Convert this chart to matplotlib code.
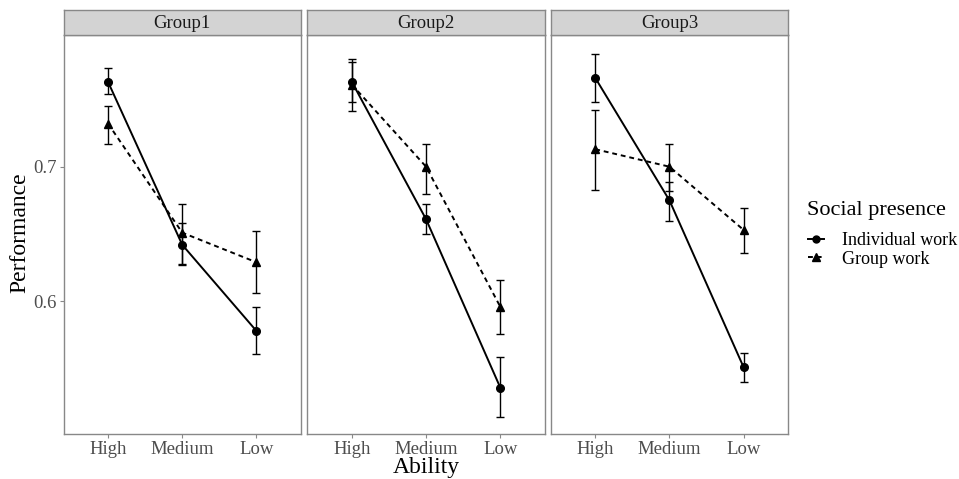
import matplotlib
matplotlib.use("Agg")
import matplotlib.pyplot as plt
from matplotlib.lines import Line2D

plt.rcParams['font.family'] = ['Liberation Serif', 'DejaVu Serif']

groups = ["Group1", "Group2", "Group3"]
ability = ["High", "Medium", "Low"]

ind_mean = {"Group1": [0.763, 0.642, 0.578],
            "Group2": [0.763, 0.661, 0.536],
            "Group3": [0.766, 0.675, 0.551]}
ind_lo = {"Group1": [0.754, 0.627, 0.561],
          "Group2": [0.748, 0.650, 0.514],
          "Group3": [0.748, 0.660, 0.540]}
ind_hi = {"Group1": [0.773, 0.658, 0.596],
          "Group2": [0.778, 0.672, 0.559],
          "Group3": [0.784, 0.689, 0.562]}

grp_mean = {"Group1": [0.732, 0.651, 0.629],
            "Group2": [0.761, 0.700, 0.596],
            "Group3": [0.713, 0.700, 0.653]}
grp_lo = {"Group1": [0.717, 0.628, 0.606],
          "Group2": [0.741, 0.680, 0.576],
          "Group3": [0.683, 0.682, 0.636]}
grp_hi = {"Group1": [0.745, 0.672, 0.652],
          "Group2": [0.780, 0.717, 0.616],
          "Group3": [0.742, 0.717, 0.669]}

W, H = 959, 479
fig = plt.figure(figsize=(W/100, H/100), dpi=100)

panel_left = [63.5, 307.3, 550.7]
pw = 237.5
ptop, pbot = 35, 434
strip_top = 10
border = "#888888"
tickcol = "#4D4D4D"

x = list(range(1, len(ability) + 1))
axes = []
for i, g in enumerate(groups):
    l = panel_left[i]
    ax = fig.add_axes([l / W, (H - pbot) / H, pw / W, (pbot - ptop) / H])
    axes.append(ax)
    ax.errorbar(x, ind_mean[g],
                yerr=[[m - lo for m, lo in zip(ind_mean[g], ind_lo[g])],
                      [hi - m for m, hi in zip(ind_mean[g], ind_hi[g])]],
                fmt='none', ecolor='black', elinewidth=1.0, capsize=3.0, capthick=1.0, zorder=2)
    ax.plot(x, ind_mean[g], color='black', lw=1.4, ls='-', marker='o', ms=5.5, zorder=3)
    ax.errorbar(x, grp_mean[g],
                yerr=[[m - lo for m, lo in zip(grp_mean[g], grp_lo[g])],
                      [hi - m for m, hi in zip(grp_mean[g], grp_hi[g])]],
                fmt='none', ecolor='black', elinewidth=1.0, capsize=3.0, capthick=1.0, zorder=2)
    ax.plot(x, grp_mean[g], color='black', lw=1.4, ls=(0, (2.5, 2)), marker='^', ms=6, zorder=3)
    ax.set_xlim(0.4, 3.6)
    ax.set_ylim(0.5015, 0.7978)
    ax.set_xticks(x)
    ax.set_xticklabels(ability)
    ax.set_yticks([0.6, 0.7])
    ax.set_yticklabels(["0.6", "0.7"])
    ax.tick_params(axis='both', colors=border, labelcolor=tickcol, labelsize=13.5,
                   length=3, width=0.8, pad=2)
    if i > 0:
        ax.tick_params(axis='y', left=False, labelleft=False)
    for s in ax.spines.values():
        s.set_color(border)
        s.set_linewidth(1.0)
    sax = fig.add_axes([l / W, (H - ptop) / H, pw / W, (ptop - strip_top) / H])
    sax.set_facecolor("#D3D3D3")
    sax.set_xticks([]); sax.set_yticks([])
    for s in sax.spines.values():
        s.set_color(border)
        s.set_linewidth(1.0)
    sax.text(0.5, 0.47, g, ha='center', va='center', fontsize=13.5, color='#1A1A1A',
             transform=sax.transAxes)

fig.text(20 / W, 1 - 233 / H, "Performance", rotation=90, ha='center', va='center', fontsize=17)
fig.text((63.5 + 788.3) / 2 / W, 1 - 467 / H, "Ability", ha='center', va='center', fontsize=17)

fig.text(807 / W, 1 - 211 / H, "Social presence", ha='left', va='center', fontsize=16)
handles = [Line2D([0], [0], color='black', lw=1.4, ls='-', marker='o', ms=5),
           Line2D([0], [0], color='black', lw=1.4, ls=(0, (2.5, 2)), marker='^', ms=5.5)]
leg = fig.legend(handles, ["Individual work", "Group work"],
                 loc='upper left', bbox_to_anchor=(808 / W, 1 - 232 / H),
                 frameon=False, fontsize=13,
                 handlelength=0.9, handletextpad=1.0, labelspacing=0.1, borderaxespad=0,
                 borderpad=0)

fig.savefig("out.png", dpi=100)
